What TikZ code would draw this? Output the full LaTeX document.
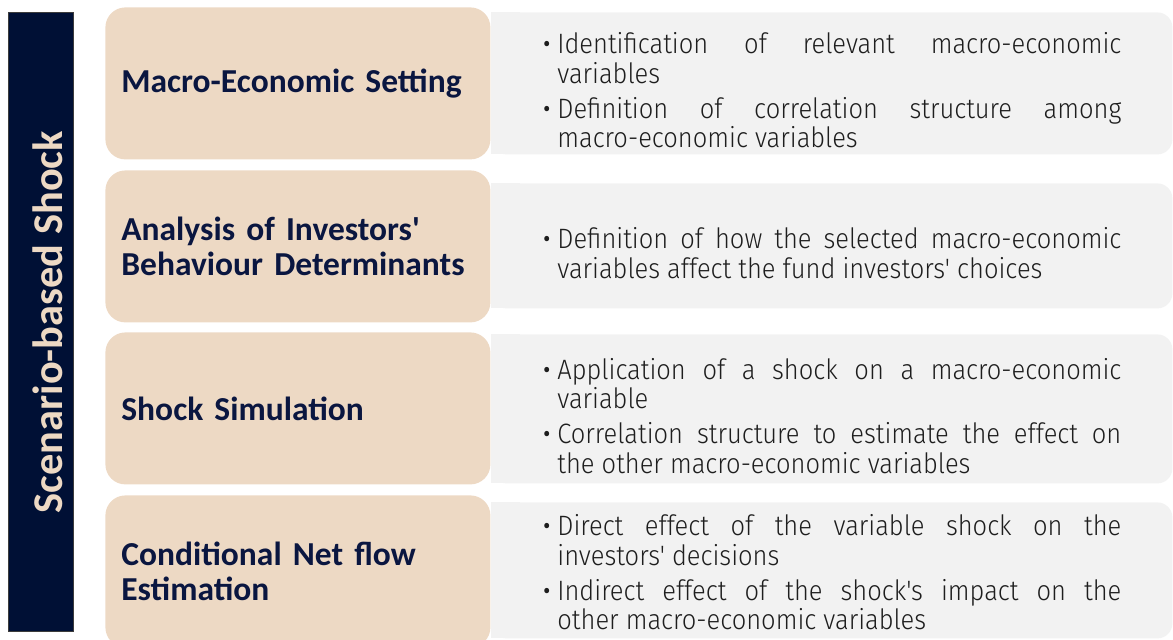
\documentclass[tikz,border=0pt]{standalone}
\usepackage{fontspec}
\usetikzlibrary{positioning}

\setmainfont{Carlito}
\newfontfamily\stagefont[Ligatures=TeXOff]{Carlito}
\newfontfamily\detailfont[Ligatures=TeXOff,FakeStretch=0.91]{Fira Sans Light}

\definecolor{stagefill}{RGB}{237,217,196}
\definecolor{panelfill}{RGB}{242,242,242}
\definecolor{barnavy}{RGB}{0,16,53}
\definecolor{barline}{RGB}{60,60,60}
\definecolor{labelnavy}{RGB}{10,22,64}
\definecolor{detailgray}{RGB}{30,30,30}

% bullet hanging left of the item text
\newcommand{\bitem}{\par\noindent\llap{\raisebox{-1.5pt}{\fontsize{18}{18}\selectfont\textbullet}\hspace{3pt}}}

\tikzset{
  sidebar/.style={rectangle, anchor=north west, fill=barnavy, draw=barline, line width=0.6pt,
    minimum width=32.5pt, minimum height=309.5pt, inner sep=0pt},
  sidelabel/.style={text=stagefill, font=\stagefont\bfseries\fontsize{21.2}{24}\selectfont, inner sep=0pt},
  stage/.style={rectangle, rounded corners=10pt, fill=stagefill, anchor=north west,
    minimum width=192.5pt, minimum height=76pt, inner xsep=8pt, text width=176.5pt, align=left,
    text=labelnavy, font=\stagefont\bfseries\fontsize{16.75}{17.5}\selectfont},
  panel/.style={rectangle, rounded corners=7.5pt, fill=panelfill, anchor=north west,
    minimum width=340.5pt, inner sep=0pt},
  detail/.style={inner sep=0pt, text width=282pt, align=justify, text=detailgray,
    font=\detailfont\fontsize{14}{14.75}\selectfont,
    execute at begin node={\setlength{\parskip}{2.75pt}\hyphenpenalty=10000\exhyphenpenalty=10000}},
}

\begin{document}
\begin{tikzpicture}[x=0.5pt,y=-0.5pt]
  \useasboundingbox (0,0) rectangle (1173,639);

  % vertical title bar
  \node[sidebar] (bar) at (8,12) {};
  \node[sidelabel, rotate=90] (barlabel) at ([xshift=3.25pt]bar.center) {Scenario-based Shock};

  % grey panels, square on the left side
  \foreach \i/\top/\bot in {1/12/154, 2/183/308, 3/334/483, 4/502/638} {
    \fill[panelfill] (491,\top) rectangle (520,\bot);
    \node[panel, minimum height={(\bot-\top)*0.5pt}] (det\i) at (491,\top) {};
  }

  % stage boxes
  \node[stage] (st1) at (105,7) {Macro-Economic Setting};
  \node[stage] (st2) at (105,170) {Analysis of Investors'\\Behaviour Determinants};
  \node[stage] (st3) at (105,332) {Shock Simulation};
  \node[stage] (st4) at (105,495) {Conditional Net flow\\Estimation};

  % panel texts
  \node[detail, right=33pt of det1.west] (txt1) {%
    \bitem Identification of relevant macro-economic\linebreak variables
    \bitem Definition of correlation structure among\linebreak macro-economic variables};
  \node[detail, right=33pt of det2.west] (txt2) {%
    \bitem Definition of how the selected macro-economic\linebreak variables affect the fund investors' choices};
  \node[detail, right=33pt of det3.west] (txt3) {%
    \bitem Application of a shock on a macro-economic\linebreak variable
    \bitem Correlation structure to estimate the effect on\linebreak the other macro-economic variables};
  \node[detail, right=33pt of det4.west, yshift=2.5pt] (txt4) {%
    \bitem Direct effect of the variable shock on the\linebreak investors' decisions
    \bitem Indirect effect of the shock's impact on the\linebreak other macro-economic variables};
\end{tikzpicture}
\end{document}
